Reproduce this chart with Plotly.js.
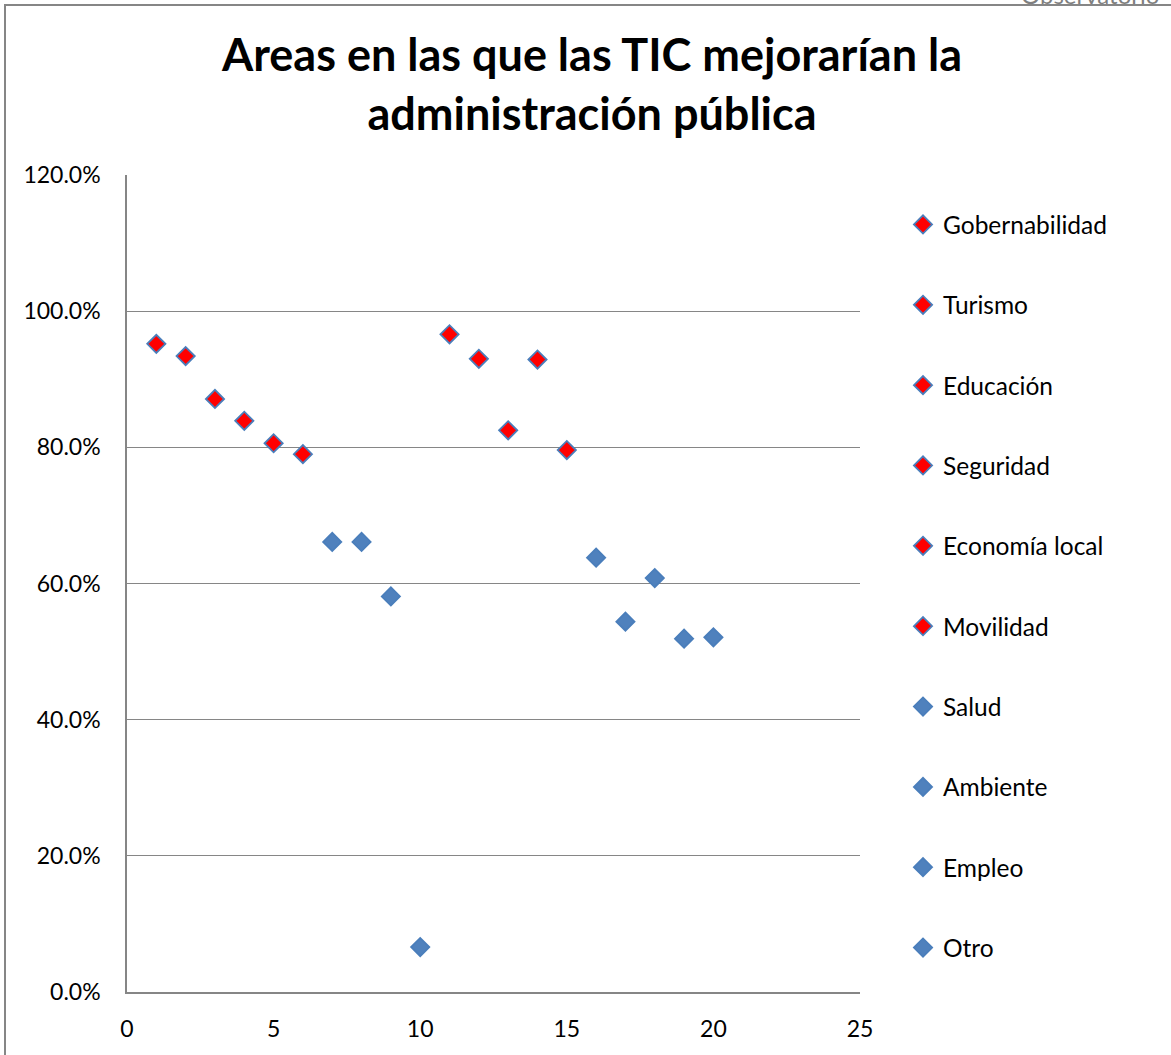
<!DOCTYPE html>
<html>
<head>
<meta charset="utf-8">
<script src="https://cdn.plot.ly/plotly-3.0.1.min.js"></script>
<style>
  html, body { margin: 0; padding: 0; background: #ffffff; overflow: hidden; width: 1171px; height: 1055px; }
  #chart { position: absolute; left: 0; top: 0; width: 1171px; height: 1055px; }
  #frame { position: absolute; left: 4px; top: 4px; width: 2000px; height: 2000px;
           border-left: 2px solid #868686; border-top: 2px solid #868686; pointer-events: none; z-index: 5; }
  #obs { position: absolute; left: 1021px; top: -17px; font-family: Lato, "Open Sans", sans-serif;
         font-size: 24px; line-height: 24px; color: #7f7f7f; z-index: 6; white-space: nowrap; }
</style>
</head>
<body>
<div id="chart"></div>
<div id="frame"></div>
<div id="obs">Observatorio</div>
<script>
// Categories (one legend entry each)
const categories = ["Gobernabilidad", "Turismo", "Educación", "Seguridad", "Economía local",
                    "Movilidad", "Salud", "Ambiente", "Empleo", "Otro"];
// x positions of the two points of each series
const xFirst  = [1, 2, 3, 4, 5, 6, 7, 8, 9, 10];
const xSecond = [11, 12, 13, 14, 15, 16, 17, 18, 19, 20];
// values in percent
const valuesFirst  = [95.2, 93.4, 87.1, 83.9, 80.6, 79.0, 66.1, 66.1, 58.1, 6.6];
const valuesSecond = [96.6, 93.0, 82.5, 92.9, 79.6, 63.8, 54.4, 60.8, 51.9, 52.1];
// which points are highlighted in red
const redFirst  = [true, true, true, true, true, true, false, false, false, false];
const redSecond = [true, true, true, true, true, false, false, false, false, false];

const xTicks = [0, 5, 10, 15, 20, 25];
const yTicks = [0, 20, 40, 60, 80, 100, 120];

const RED = "#ff0000";
const BLUE = "#4f81bd";
const EDGE = "#4a7ebb";

const traces = categories.map((name, i) => ({
  type: "scatter",
  mode: "markers",
  name: name,
  legendgroup: "g" + i,
  x: [xFirst[i], xSecond[i]],
  y: [valuesFirst[i], valuesSecond[i]],
  marker: {
    symbol: "diamond",
    size: 14,
    color: [redFirst[i] ? RED : BLUE, redSecond[i] ? RED : BLUE],
    line: { color: EDGE, width: 1.8 }
  },
  hovertemplate: name + ": %{y:.1f}%<extra></extra>"
}));

const layout = {
  width: 1171,
  height: 1055,
  paper_bgcolor: "#ffffff",
  plot_bgcolor: "#ffffff",
  margin: { l: 127.4, r: 310.6, t: 175, b: 62.5, pad: 0 },
  font: { family: "Lato, 'Open Sans', sans-serif", color: "#000000", size: 23 },
  title: {
    text: "Areas en las que las TIC mejorarían la<br>administración pública",
    font: { family: "Lato, 'Open Sans', sans-serif", size: 45, color: "#000000", weight: 700 },
    xref: "container", x: 592 / 1171, xanchor: "center",
    yref: "container", y: 1 - 71 / 1055, yanchor: "top"
  },
  xaxis: {
    range: [0, 25],
    tickvals: xTicks,
    ticktext: xTicks.map(String),
    showgrid: false,
    zeroline: false,
    showline: true,
    linecolor: "#868686",
    linewidth: 1.5,
    ticks: "",
    ticklabelstandoff: 16,
    tickfont: { size: 23 }
  },
  yaxis: {
    range: [0, 120],
    tickvals: yTicks,
    ticktext: yTicks.map(v => v.toFixed(1) + "%"),
    showgrid: true,
    gridcolor: "#868686",
    gridwidth: 1.3,
    zeroline: false,
    showline: true,
    linecolor: "#868686",
    linewidth: 1.5,
    ticks: "",
    ticklabelstandoff: 20,
    tickfont: { size: 23 }
  },
  showlegend: true,
  legend: {
    xref: "container", yref: "container",
    x: 903 / 1171, xanchor: "left",
    y: 1 - 202 / 1055, yanchor: "top",
    font: { size: 24.5, color: "#000000" },
    tracegroupgap: 45.5,
    traceorder: "grouped",
    maxheight: 900,
    bgcolor: "rgba(0,0,0,0)",
    borderwidth: 0
  },
  hovermode: "closest"
};

Plotly.newPlot("chart", traces, layout, { displayModeBar: false, responsive: false });
</script>
</body>
</html>
